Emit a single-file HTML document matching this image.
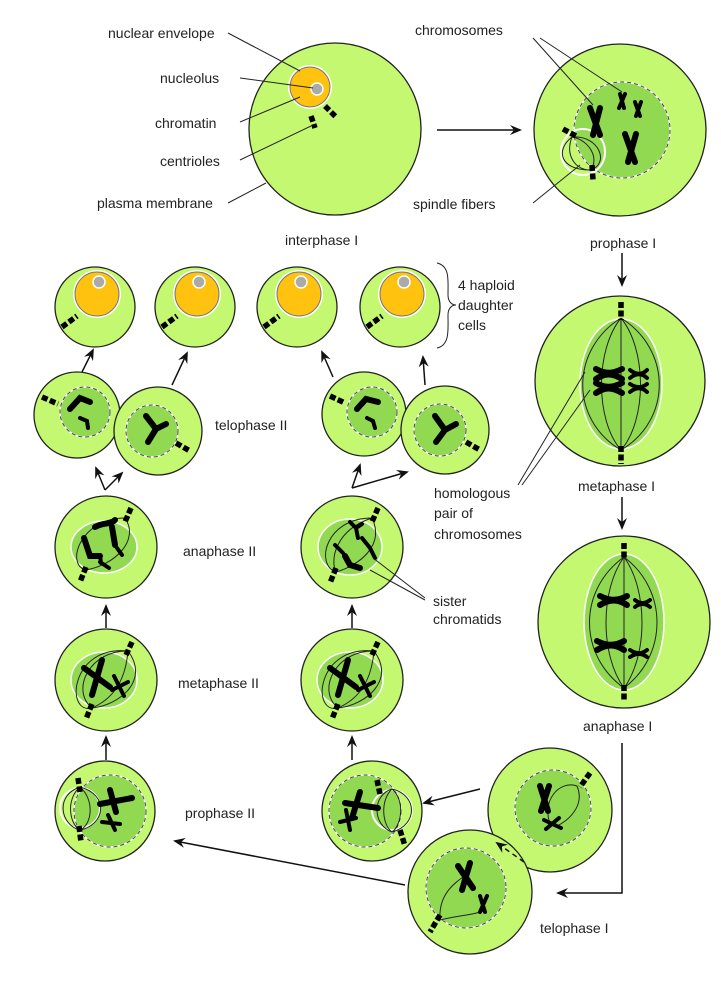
<!DOCTYPE html>
<html><head><meta charset="utf-8"><style>
body{margin:0;background:#fff}
svg{display:block}
text{font-family:"Liberation Sans",sans-serif;font-size:14px;fill:#222}
.c{fill:#c4f871;stroke:#222;stroke-width:1.3}
.n{fill:#92d952;stroke:#fff;stroke-width:1.5}
.nd{fill:none;stroke:#444;stroke-width:1;stroke-dasharray:4 3}
.w{fill:none;stroke:#fff;stroke-width:2}
.s{fill:none;stroke:#222;stroke-width:1}
.ch{fill:none;stroke:#000;stroke-width:6;stroke-linecap:round}
.cs{fill:none;stroke:#000;stroke-width:4;stroke-linecap:round}
.ce{stroke:#000;stroke-width:5.5;stroke-linecap:butt;stroke-dasharray:6 2.5}
.l{stroke:#222;stroke-width:1;fill:none}
.a{stroke:#111;stroke-width:1.5;fill:none}
</style></head><body>
<svg width="721" height="991" viewBox="0 0 721 991" xmlns="http://www.w3.org/2000/svg">
<defs>
<marker id="ah" markerWidth="12" markerHeight="10" refX="10" refY="5" orient="auto" markerUnits="userSpaceOnUse">
<path d="M0,0 L12,5 L0,10 L4,5 Z" fill="#111"/></marker>
</defs>

<!-- Interphase -->
<circle class="c" cx="335" cy="129" r="86"/>
<circle cx="310" cy="87" r="22" fill="#fff"/>
<circle cx="310" cy="87" r="20" fill="#ffc30f" stroke="#777" stroke-width="1"/>
<circle cx="317" cy="89" r="6" fill="#aaa" stroke="#fff" stroke-width="1.5"/>
<line class="ce" x1="311" y1="116" x2="315" y2="128"/>
<line class="ce" x1="325" y1="106" x2="336" y2="117"/>
<text x="108" y="38">nuclear envelope</text><line class="l" x1="228" y1="33" x2="300" y2="71"/>
<text x="160" y="83">nucleolus</text><line class="l" x1="240" y1="78" x2="313" y2="88"/>
<text x="155" y="128">chromatin</text><line class="l" x1="240" y1="122" x2="300" y2="97"/>
<text x="160" y="166">centrioles</text><line class="l" x1="240" y1="160" x2="311" y2="126"/>
<text x="97" y="208">plasma membrane</text><line class="l" x1="228" y1="203" x2="266" y2="183"/>
<text x="285" y="245">interphase I</text>
<line class="a" x1="437" y1="130" x2="520" y2="130" marker-end="url(#ah)"/>

<!-- Prophase I -->
<circle class="c" cx="620" cy="130" r="86"/>
<circle class="n" cx="622" cy="130" r="48"/>
<circle class="nd" cx="622" cy="130" r="48"/>
<ellipse class="w" cx="583" cy="152" rx="22" ry="23"/>
<path class="s" d="M572,137 C555,150 560,170 590,170 M572,137 C565,155 575,170 590,170 M572,137 C590,140 600,160 590,170 M572,137 C600,135 610,165 590,170"/>
<line class="ce" x1="563" y1="129" x2="576" y2="136"/>
<line class="ce" x1="592" y1="165" x2="593" y2="180"/>
<path class="ch" d="M590,108 L600,135 M600,108 L593,135"/>
<path class="cs" d="M620,94 L624,108 M625,94 L619,108"/>
<path class="cs" d="M635,102 L640,116 M641,102 L636,116"/>
<path class="ch" d="M625,134 L635,162 M636,134 L628,162"/>
<text x="415" y="35">chromosomes</text>
<line class="l" x1="533" y1="38" x2="593" y2="105"/><line class="l" x1="540" y1="38" x2="622" y2="92"/>
<text x="413" y="209">spindle fibers</text><line class="l" x1="533" y1="203" x2="580" y2="165"/>
<text x="590" y="248">prophase I</text>
<line class="a" x1="622" y1="253" x2="622" y2="285" marker-end="url(#ah)"/>

<!-- Metaphase I -->
<circle class="c" cx="620" cy="381" r="85"/>
<ellipse class="n" cx="621" cy="384" rx="41" ry="65"/>
<path class="s" d="M621,318 C570,350 570,420 621,450 M621,318 C595,350 595,420 621,450 M621,318 L621,450 M621,318 C647,350 647,420 621,450 M621,318 C672,350 672,420 621,450"/>
<line class="ce" x1="621" y1="302" x2="621" y2="320"/><line class="ce" x1="621" y1="446" x2="621" y2="464"/>
<path class="ch" d="M596,369 C605,374 612,374 622,369 M596,379 C605,373 612,373 622,379 M596,383 C605,388 612,388 622,383 M596,393 C605,387 612,387 622,393"/>
<path class="cs" d="M630,370 C636,375 642,375 647,370 M630,378 C636,373 642,373 647,378 M630,384 C636,388 642,388 647,384 M630,392 C636,387 642,387 647,392"/>
<text x="578" y="491">metaphase I</text>
<line class="a" x1="622" y1="497" x2="622" y2="528" marker-end="url(#ah)"/>
<text x="434" y="498">homologous</text><text x="434" y="518">pair of</text><text x="434" y="539">chromosomes</text>
<line class="l" x1="518" y1="485" x2="585" y2="372"/><line class="l" x1="522" y1="485" x2="590" y2="390"/>

<!-- Anaphase I -->
<circle class="c" cx="624" cy="622" r="86"/>
<ellipse class="n" cx="624" cy="622" rx="40" ry="68"/>
<path class="s" d="M624,557 C578,590 578,655 624,688 M624,557 C600,590 600,655 624,688 M624,557 L624,688 M624,557 C648,590 648,655 624,688 M624,557 C668,590 668,655 624,688"/>
<line class="ce" x1="624" y1="543" x2="624" y2="560"/><line class="ce" x1="624" y1="685" x2="624" y2="702"/>
<path class="ch" d="M600,596 C610,601 618,601 627,596 M600,605 C610,599 618,599 627,605"/>
<path class="cs" d="M635,600 C640,604 645,604 650,600 M635,607 C640,603 645,603 650,607"/>
<path class="ch" d="M597,641 C607,646 615,646 624,641 M597,650 C607,644 615,644 624,650"/>
<path class="cs" d="M630,650 C636,654 642,654 647,650 M630,657 C636,653 642,653 647,657"/>
<text x="583" y="731">anaphase I</text>
<polyline class="a" points="622,743 622,893 558,893" marker-end="url(#ah)"/>

<!-- Telophase I -->
<circle class="c" cx="550" cy="810" r="62"/>
<circle class="n" cx="553" cy="808" r="38"/><circle class="nd" cx="553" cy="808" r="38"/>
<path class="s" d="M577,786 C560,780 540,800 551,827 M577,786 C585,805 570,820 555,827"/>
<line class="ce" x1="590" y1="773" x2="580" y2="787"/>
<path class="ch" d="M540,786 L548,811 M549,786 L541,811"/>
<path class="cs" d="M544,820 L561,828 M546,829 L559,818"/>
<circle class="c" cx="470" cy="892" r="62"/>
<circle class="n" cx="466" cy="888" r="40"/><circle class="nd" cx="466" cy="888" r="40"/>
<path class="s" d="M440,920 C438,890 460,880 470,872 M440,920 C460,915 475,915 485,910"/>
<line class="ce" x1="440" y1="915" x2="430" y2="932"/>
<path class="ch" d="M458,866 L473,888 M470,863 L462,890"/>
<path class="cs" d="M480,896 L485,912 M487,896 L480,912"/>
<line x1="524" y1="862" x2="497" y2="843" stroke="#111" stroke-width="1.5" stroke-dasharray="5 4" marker-end="url(#ah)"/>
<text x="540" y="933">telophase I</text>
<line class="a" x1="480" y1="789" x2="424" y2="803" marker-end="url(#ah)"/>
<line class="a" x1="405" y1="885" x2="175" y2="841" marker-end="url(#ah)"/>

<!-- Prophase II left -->
<circle class="c" cx="105" cy="811" r="50"/>
<circle class="n" cx="110" cy="811" r="36"/><circle class="nd" cx="110" cy="811" r="36"/>
<ellipse class="w" cx="80" cy="808" rx="20" ry="20"/>
<path class="s" d="M80,787 C55,795 60,825 80,830 M80,787 C65,800 70,825 80,830 M80,787 C95,800 92,825 80,830 M80,787 C110,795 105,825 80,830"/>
<line class="ce" x1="78" y1="778" x2="80" y2="792"/><line class="ce" x1="79" y1="826" x2="81" y2="842"/>
<path class="ch" d="M100,804 L132,798 M110,790 L116,812"/>
<path class="cs" d="M102,822 L120,824 M108,815 L115,830"/>
<!-- Prophase II right -->
<circle class="c" cx="372" cy="811" r="50"/>
<circle class="n" cx="365" cy="811" r="36"/><circle class="nd" cx="365" cy="811" r="36"/>
<ellipse class="w" cx="392" cy="810" rx="20" ry="20"/>
<path class="s" d="M392,789 C372,795 372,825 392,832 M392,789 C380,800 382,825 392,832 M392,789 C405,800 402,825 392,832 M392,789 C418,795 418,825 392,832"/>
<line class="ce" x1="377" y1="780" x2="380" y2="794"/><line class="ce" x1="400" y1="830" x2="405" y2="846"/>
<path class="ch" d="M345,803 L378,808 M360,792 L352,818"/>
<path class="cs" d="M340,822 L356,818 M346,810 L350,830"/>
<text x="185" y="818">prophase II</text>

<!-- Metaphase II -->
<line class="a" x1="106" y1="760" x2="106" y2="737" marker-end="url(#ah)"/>
<line class="a" x1="352" y1="760" x2="352" y2="737" marker-end="url(#ah)"/>
<circle class="c" cx="106" cy="680" r="51"/>
<ellipse class="n" cx="104" cy="680" rx="33" ry="28"/>
<path class="s" d="M128,651 C90,650 70,690 92,708 M128,651 C125,685 110,700 92,708 M128,651 C70,645 65,715 92,708 M128,651 C150,680 120,705 92,708"/>
<line class="ce" x1="132" y1="642" x2="126" y2="655"/><line class="ce" x1="92" y1="704" x2="86" y2="719"/>
<path class="ch" d="M84,668 L110,687 M102,660 L92,695"/>
<path class="cs" d="M114,676 L124,696 M112,690 L128,682"/>
<circle class="c" cx="352" cy="680" r="51"/>
<ellipse class="n" cx="350" cy="680" rx="33" ry="28"/>
<path class="s" d="M374,651 C336,650 316,690 338,708 M374,651 C371,685 356,700 338,708 M374,651 C316,645 311,715 338,708 M374,651 C396,680 366,705 338,708"/>
<line class="ce" x1="378" y1="642" x2="372" y2="655"/><line class="ce" x1="338" y1="704" x2="332" y2="719"/>
<path class="ch" d="M330,668 L356,687 M348,660 L338,695"/>
<path class="cs" d="M360,676 L370,696 M358,690 L374,682"/>
<text x="178" y="688">metaphase II</text>

<!-- Anaphase II -->
<line class="a" x1="106" y1="628" x2="106" y2="606" marker-end="url(#ah)"/>
<line class="a" x1="352" y1="628" x2="352" y2="606" marker-end="url(#ah)"/>
<circle class="c" cx="106" cy="547" r="51"/>
<ellipse class="n" cx="104" cy="547" rx="33" ry="26"/>
<path class="s" d="M125,518 C80,518 65,565 86,570 M125,518 C140,540 115,565 86,570"/>
<line class="ce" x1="131" y1="508" x2="125" y2="522"/><line class="ce" x1="86" y1="567" x2="80" y2="582"/>
<path class="ch" d="M95,527 C104,522 110,525 115,520 M112,527 L115,545 M84,538 L90,556 L100,556"/>
<path class="cs" d="M117,548 L122,555 M100,562 L109,568 M100,555 L101,563"/>
<circle class="c" cx="352" cy="547" r="51"/>
<ellipse class="n" cx="350" cy="547" rx="32" ry="28"/>
<path class="s" d="M372,518 C325,518 315,565 336,572 M372,518 C385,545 360,565 336,572 M372,518 C335,530 330,560 336,572"/>
<line class="ce" x1="378" y1="508" x2="372" y2="522"/><line class="ce" x1="336" y1="568" x2="330" y2="583"/>
<path class="cs" d="M350,522 L356,528 L362,524 M356,528 L358,538 M335,545 L343,553 M362,538 L370,548 L375,558"/>
<path class="ch" d="M345,556 L350,565 L360,568"/>
<text x="183" y="556">anaphase II</text>
<text x="433" y="606">sister</text><text x="433" y="624">chromatids</text>
<line class="l" x1="425" y1="598" x2="373" y2="558"/><line class="l" x1="425" y1="600" x2="370" y2="570"/>

<!-- Telophase II arrows -->
<line class="a" x1="105" y1="490" x2="96" y2="468" marker-end="url(#ah)"/>
<line class="a" x1="105" y1="490" x2="122" y2="473" marker-end="url(#ah)"/>
<line class="a" x1="352" y1="488" x2="360" y2="465" marker-end="url(#ah)"/>
<line class="a" x1="352" y1="488" x2="407" y2="472" marker-end="url(#ah)"/>

<!-- Telophase II left -->
<circle class="c" cx="77" cy="415" r="43"/>
<circle class="n" cx="85" cy="412" r="25"/><circle class="nd" cx="85" cy="412" r="25"/>
<line class="ce" x1="42" y1="397" x2="58" y2="404"/>
<path class="ch" d="M70,409 L80,398 L90,402"/><path class="cs" d="M80,418 L87,421 L88,428"/>
<circle class="c" cx="158" cy="431" r="44"/>
<circle class="n" cx="152" cy="431" r="26"/><circle class="nd" cx="152" cy="431" r="26"/>
<line class="ce" x1="176" y1="443" x2="190" y2="451"/>
<path class="ch" d="M146,416 L156,429 L166,424 M156,429 L148,442"/>
<!-- Telophase II right -->
<circle class="c" cx="364" cy="414" r="42"/>
<circle class="n" cx="372" cy="412" r="25"/><circle class="nd" cx="372" cy="412" r="25"/>
<line class="ce" x1="330" y1="396" x2="345" y2="403"/>
<path class="ch" d="M357,409 L366,399 L378,402"/><path class="cs" d="M367,418 L373,421 L375,428"/>
<circle class="c" cx="445" cy="430" r="44"/>
<circle class="n" cx="440" cy="430" r="26"/><circle class="nd" cx="440" cy="430" r="26"/>
<line class="ce" x1="466" y1="442" x2="480" y2="450"/>
<path class="ch" d="M435,416 L445,430 L456,424 M445,430 L436,442"/>
<text x="215" y="430">telophase II</text>
<line class="a" x1="82" y1="372" x2="93" y2="350" marker-end="url(#ah)"/>
<line class="a" x1="172" y1="385" x2="187" y2="353" marker-end="url(#ah)"/>
<line class="a" x1="333" y1="377" x2="322" y2="352" marker-end="url(#ah)"/>
<line class="a" x1="425" y1="385" x2="423" y2="357" marker-end="url(#ah)"/>

<!-- Daughter cells -->
<g>
<circle class="c" cx="95" cy="307" r="40"/>
<circle cx="97" cy="294" r="24" fill="#fff"/><circle cx="97" cy="294" r="22" fill="#ffc30f" stroke="#777" stroke-width="1"/>
<circle cx="99" cy="282" r="6" fill="#aaa" stroke="#fff" stroke-width="1.5"/>
<line class="ce" x1="62" y1="327" x2="77" y2="316"/>
</g>
<g transform="translate(100,0)">
<circle class="c" cx="95" cy="307" r="40"/>
<circle cx="97" cy="294" r="24" fill="#fff"/><circle cx="97" cy="294" r="22" fill="#ffc30f" stroke="#777" stroke-width="1"/>
<circle cx="99" cy="282" r="6" fill="#aaa" stroke="#fff" stroke-width="1.5"/>
<line class="ce" x1="62" y1="327" x2="77" y2="316"/>
</g>
<g transform="translate(202,0)">
<circle class="c" cx="95" cy="307" r="40"/>
<circle cx="97" cy="294" r="24" fill="#fff"/><circle cx="97" cy="294" r="22" fill="#ffc30f" stroke="#777" stroke-width="1"/>
<circle cx="99" cy="282" r="6" fill="#aaa" stroke="#fff" stroke-width="1.5"/>
<line class="ce" x1="62" y1="327" x2="77" y2="316"/>
</g>
<g transform="translate(305,0)">
<circle class="c" cx="95" cy="307" r="40"/>
<circle cx="97" cy="294" r="24" fill="#fff"/><circle cx="97" cy="294" r="22" fill="#ffc30f" stroke="#777" stroke-width="1"/>
<circle cx="99" cy="282" r="6" fill="#aaa" stroke="#fff" stroke-width="1.5"/>
<line class="ce" x1="62" y1="327" x2="77" y2="316"/>
</g>
<path class="l" d="M437,263 C450,266 448,280 448,295 C448,302 452,305 456,305 C452,305 448,308 448,315 C448,330 450,345 437,348"/>
<text x="458" y="290">4 haploid</text><text x="458" y="310">daughter</text><text x="458" y="330">cells</text>
</svg>
</body></html>
